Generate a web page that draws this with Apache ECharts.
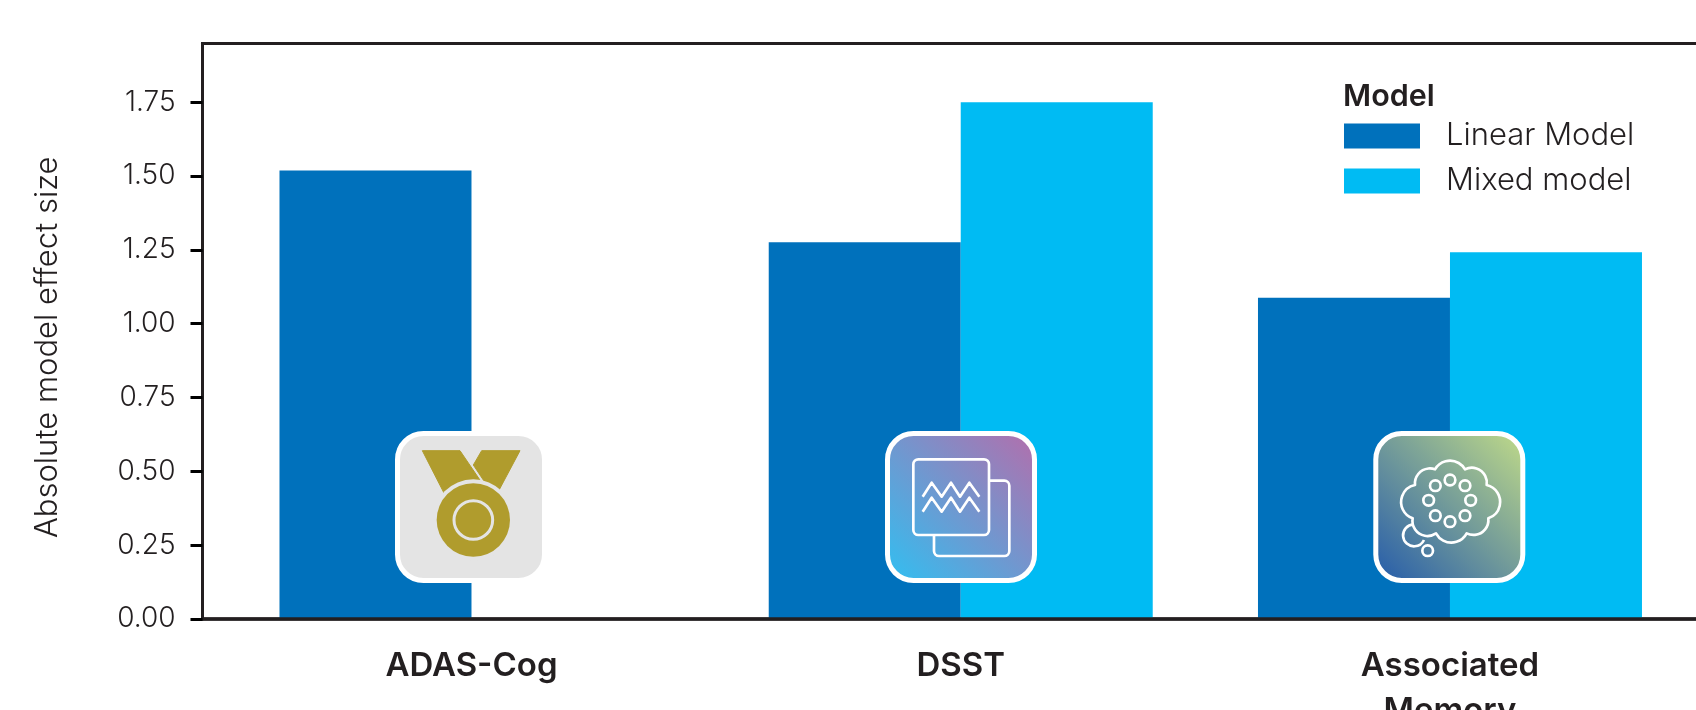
<!DOCTYPE html>
<html><head><meta charset="utf-8">
<style>html,body{margin:0;padding:0;background:#fff}#c{width:1696px;height:710px}</style>
<script src="https://cdn.jsdelivr.net/npm/echarts@6/dist/echarts.min.js"></script>
</head><body><div id="c"></div>
<script>
const categories = ['ADAS-Cog', 'DSST', 'Associated\nMemory'];
const linearModel = [1.519, 1.276, 1.088];
const mixedModel = [null, 1.75, 1.242];
const yTicks = [0, 0.25, 0.5, 0.75, 1, 1.25, 1.5, 1.75];
const seriesNames = ['Linear Model', 'Mixed model'];
const yTitle = 'Absolute model effect size';
const legendTitle = 'Model';

const INK = '#231f20', FONT = 'Inter';
const pairs = a => a.map((v, i) => v == null ? null : [i, v]).filter(Boolean);

echarts.graphic.registerShape('iconBackSquare', echarts.graphic.extendPath('M357 182 H403 A15 15 0 0 1 418 197 V393 A15 15 0 0 1 403 408 H207 A15 15 0 0 1 192 393 V345'));
echarts.graphic.registerShape('iconCloud', echarts.graphic.extendPath('M165 195 A45 45 0 0 1 225 148 A52 52 0 0 1 315 148 A45 45 0 0 1 380 195 A52 52 0 0 1 385 295 A45 45 0 0 1 320 340 A52 52 0 0 1 228 340 A45 45 0 0 1 158 295 A52 52 0 0 1 165 195 Z'));
echarts.graphic.registerShape('iconBubble', echarts.graphic.extendPath('M160 313 A33 33 0 1 0 192 360'));

// Rounded tile with a 3x-scaled drawing space for the glyphs
function tile(x, ox, fill, kids) {
  return { type: 'group', x: x, y: 433.5, children: [
    { type: 'rect', z: 100, shape: { x: 0, y: 0, width: 147, height: 147, r: 26 },
      style: { fill: fill, stroke: '#fff', lineWidth: 5 } },
    { type: 'group', x: ox - x, y: -13.5, scaleX: 1/3, scaleY: 1/3, children: kids }
  ]};
}
const W = { fill: 'none', stroke: '#fff', lineWidth: 8, lineJoin: 'round' };
const ring = (cx, cy, r) => ({ type: 'circle', z: 101, shape: { cx, cy, r }, style: W });
const zig = dy => ({ type: 'polyline', z: 101,
  shape: { points: [[158,230],[185,188],[215,230],[243,188],[270,230],[298,188],[328,230]].map(p => [p[0], p[1] + dy]) },
  style: W });
const G = '#b09c2d', BG = '#e4e4e4';

const medal = tile(397.5, 380, BG, [
  { type: 'polygon', z: 101, shape: { points: [[127,92],[240,92],[310,195],[195,225]] }, style: { fill: G, stroke: G, lineWidth: 3, lineJoin: 'round' } },
  { type: 'polygon', z: 101, shape: { points: [[305,92],[420,92],[352,220],[320,195],[280,135]] }, style: { fill: G, stroke: G, lineWidth: 3, lineJoin: 'round' } },
  { type: 'circle', z: 102, shape: { cx: 280, cy: 300, r: 122 }, style: { fill: BG } },
  { type: 'circle', z: 103, shape: { cx: 280, cy: 300, r: 110 }, style: { fill: G } },
  { type: 'circle', z: 104, shape: { cx: 280, cy: 300, r: 58 }, style: { fill: 'none', stroke: BG, lineWidth: 9 } }
]);

const wave = tile(887.5, 870, { type: 'linear', x: 0, y: 1, x2: 1, y2: 0,
    colorStops: [{ offset: 0, color: '#2fc0f2' }, { offset: 1, color: '#b56dab' }] }, [
  { type: 'iconBackSquare', z: 101, style: W },
  { type: 'rect', z: 101, shape: { x: 130, y: 118, width: 227, height: 227, r: 15 }, style: W },
  zig(0), zig(45)
]);

const cloud = tile(1375.8, 1360, { type: 'linear', x: 0, y: 1, x2: 1, y2: 0,
    colorStops: [{ offset: 0, color: '#2259ab' }, { offset: 1, color: '#c2dc88' }] }, [
  { type: 'iconCloud', z: 101, style: W },
  { type: 'iconBubble', z: 101, style: W },
  ring(203, 392, 16),
  ...[[270,180],[315,197],[332,241],[315,287],[270,305],[226,287],[206,241],[226,197]].map(p => ring(p[0], p[1], 16))
]);

const chart = echarts.init(document.getElementById('c'), null, { renderer: 'canvas' });
chart.setOption({
  animation: false,
  backgroundColor: '#fff',
  textStyle: { fontFamily: FONT },
  grid: { left: 202.5, top: 43.5, width: 1503.5, height: 575.5, show: true, outerBoundsMode: 'none',
    borderColor: INK, borderWidth: 3, backgroundColor: 'transparent', containLabel: false },
  xAxis: {
    type: 'value', min: -0.5498, max: 2.5233, splitLine: { show: false }, z: 5,
    axisLine: { show: true, onZero: false, lineStyle: { color: INK, width: 3.5 } }, axisTick: { show: false },
    axisLabel: { customValues: categories.map((c, i) => i), formatter: v => categories[v],
      fontFamily: FONT, fontWeight: 600, fontSize: 33, color: INK, margin: 25, lineHeight: 45,
      align: 'center', hideOverlap: false }
  },
  yAxis: {
    type: 'value', min: 0, max: 575.5 / 295.3, splitLine: { show: false }, z: 5,
    axisLine: { show: true, onZero: false, lineStyle: { color: INK, width: 3 } },
    axisTick: { show: true, customValues: yTicks, length: 12, lineStyle: { color: '#000', width: 3 } },
    axisLabel: { customValues: yTicks, formatter: v => v.toFixed(2), fontFamily: FONT, fontWeight: 350,
      fontSize: 28, color: INK, margin: 27 },
    name: yTitle, nameLocation: 'middle', nameRotate: 90, nameGap: 139,
    nameTextStyle: { fontFamily: FONT, fontWeight: 350, fontSize: 31, color: INK, padding: [0, 32, 0, 0] }
  },
  legend: {
    left: 1344, top: 120.5, orient: 'vertical', itemWidth: 76, itemHeight: 25, itemGap: 14, icon: 'rect',
    padding: 0, selectedMode: false, data: seriesNames,
    textStyle: { fontFamily: FONT, fontWeight: 350, fontSize: 31, color: INK, padding: [0, 0, 0, 21] }
  },
  title: { text: legendTitle, left: 1343, top: 81, padding: 0,
    textStyle: { fontFamily: FONT, fontWeight: 600, fontSize: 30.5, color: INK } },
  series: [
    { name: seriesNames[0], type: 'bar', barWidth: 192, barGap: '0%', itemStyle: { color: '#0071bc' }, data: pairs(linearModel) },
    { name: seriesNames[1], type: 'bar', barWidth: 192, barGap: '0%', itemStyle: { color: '#00bbf3' }, data: pairs(mixedModel) }
  ],
  graphic: { elements: [medal, wave, cloud] }
});
</script></body></html>
